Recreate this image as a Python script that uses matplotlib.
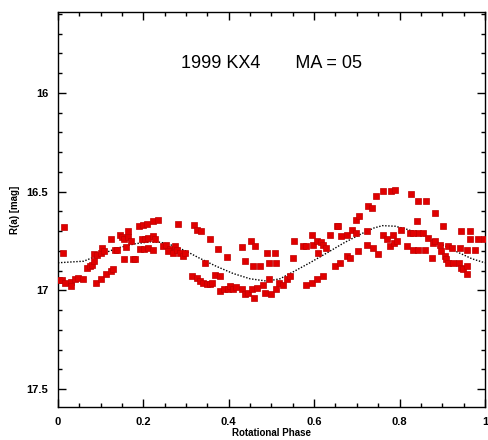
import matplotlib
matplotlib.use("Agg")
import matplotlib.pyplot as plt
from matplotlib.ticker import MultipleLocator

plt.rcParams['font.family'] = ['Liberation Sans', 'DejaVu Sans']

phase = [
    0.002, 0.009, 0.014, 0.012, 0.016, 0.030, 0.030, 0.040, 0.048, 0.058,
    0.069, 0.075, 0.079, 0.085, 0.085, 0.091, 0.100, 0.102, 0.108, 0.088,
    0.101, 0.112, 0.124, 0.128,
    0.123, 0.133, 0.139, 0.145, 0.149, 0.155, 0.163, 0.165, 0.171, 0.155,
    0.175, 0.181, 0.159,
    0.190, 0.200, 0.209, 0.222, 0.234, 0.196, 0.204, 0.212, 0.222, 0.227,
    0.192, 0.201, 0.212, 0.223,
    0.247, 0.254, 0.262, 0.258, 0.269, 0.274, 0.278, 0.286, 0.292, 0.297, 0.282,
    0.319, 0.325, 0.336, 0.356, 0.375, 0.395, 0.344,
    0.315, 0.325, 0.333, 0.340, 0.348, 0.356, 0.360, 0.368, 0.379, 0.379,
    0.389, 0.399, 0.403, 0.411, 0.418,
    0.430, 0.438, 0.451, 0.461, 0.457, 0.473, 0.430, 0.438, 0.446, 0.454,
    0.459, 0.465, 0.481, 0.489, 0.495, 0.495, 0.485, 0.500,
    0.508, 0.511, 0.511, 0.518, 0.528, 0.536, 0.543, 0.551, 0.553,
    0.573, 0.582, 0.594, 0.598, 0.606, 0.610, 0.615, 0.621, 0.628, 0.582,
    0.594, 0.606, 0.621, 0.637, 0.653, 0.657, 0.649, 0.660, 0.676, 0.684,
    0.664, 0.676, 0.688, 0.699, 0.699, 0.706, 0.703, 0.723, 0.723, 0.727, 0.735,
    0.746, 0.762, 0.781, 0.789, 0.737, 0.750, 0.762, 0.770, 0.778, 0.788,
    0.785, 0.793, 0.803,
    0.826, 0.844, 0.863, 0.883, 0.840, 0.824, 0.844, 0.832, 0.856, 0.817,
    0.832, 0.844, 0.859, 0.875, 0.867, 0.879, 0.884,
    0.902, 0.895, 0.898, 0.906, 0.910, 0.914, 0.922, 0.914, 0.926, 0.941,
    0.940, 0.945, 0.949, 0.957, 0.945, 0.965, 0.957, 0.957, 0.966, 0.977,
    0.984, 0.998,
]

mag = [
    16.949, 16.949, 16.680, 16.810, 16.961, 16.958, 16.978, 16.944, 16.936, 16.941,
    16.886, 16.877, 16.869, 16.852, 16.818, 16.823, 16.810, 16.786, 16.801, 16.961,
    16.941, 16.919, 16.902, 16.891,
    16.742, 16.793, 16.796, 16.717, 16.729, 16.742, 16.700, 16.729, 16.751, 16.840,
    16.843, 16.843, 16.779,
    16.675, 16.667, 16.662, 16.650, 16.645, 16.742, 16.739, 16.734, 16.722, 16.742,
    16.790, 16.790, 16.785, 16.793,
    16.776, 16.768, 16.790, 16.801, 16.810, 16.776, 16.793, 16.810, 16.827, 16.810, 16.662,
    16.667, 16.692, 16.700, 16.739, 16.790, 16.830, 16.860,
    16.928, 16.936, 16.953, 16.961, 16.965, 16.965, 16.961, 16.924, 16.928, 17.003,
    16.995, 16.992, 16.978, 16.995, 16.981,
    16.779, 16.852, 16.751, 16.776, 16.877, 16.877, 16.995, 17.020, 17.012, 16.995,
    17.037, 16.987, 16.970, 16.810, 16.860, 16.944, 17.012, 17.020,
    16.810, 16.860, 16.995, 16.961, 16.970, 16.944, 16.928, 16.835, 16.751,
    16.773, 16.776, 16.717, 16.768, 16.751, 16.810, 16.756, 16.768, 16.785, 16.970,
    16.961, 16.944, 16.928, 16.717, 16.675, 16.675, 16.877, 16.860, 16.827, 16.835,
    16.726, 16.717, 16.692, 16.709, 16.641, 16.625, 16.801, 16.768, 16.700, 16.574, 16.582,
    16.524, 16.498, 16.498, 16.490, 16.785, 16.818, 16.717, 16.742, 16.776, 16.759,
    16.717, 16.751, 16.692,
    16.512, 16.549, 16.549, 16.608, 16.650, 16.709, 16.709, 16.709, 16.709, 16.776,
    16.793, 16.793, 16.793, 16.835, 16.734, 16.759, 16.751,
    16.675, 16.768, 16.801, 16.827, 16.843, 16.776, 16.785, 16.860, 16.860, 16.785,
    16.860, 16.886, 16.894, 16.877, 16.700, 16.742, 16.793, 16.919, 16.700, 16.793,
    16.742, 16.742,
]

fit_phase = [0.0, 0.06, 0.10, 0.14, 0.18, 0.215, 0.24, 0.27, 0.30, 0.33, 0.37,
             0.41, 0.45, 0.49, 0.52, 0.55, 0.59, 0.63, 0.67, 0.71, 0.74, 0.76,
             0.79, 0.82, 0.86, 0.90, 0.94, 0.97, 1.0]
fit_mag = [16.860, 16.852, 16.818, 16.785, 16.764, 16.754, 16.756, 16.773, 16.801,
           16.835, 16.877, 16.914, 16.941, 16.953, 16.941, 16.907, 16.860, 16.810,
           16.759, 16.714, 16.684, 16.672, 16.675, 16.692, 16.726, 16.768, 16.810,
           16.840, 16.860]

title_text = "1999 KX4       MA = 05"
xticks = [0, 0.2, 0.4, 0.6, 0.8, 1]
xtick_labels = ["0", "0.2", "0.4", "0.6", "0.8", "1"]
yticks = [16, 16.5, 17, 17.5]
ytick_labels = ["16", "16.5", "17", "17.5"]

fig = plt.figure(figsize=(4.89, 4.40), dpi=100)
ax = fig.add_axes([0.1186, 0.075, 0.873, 0.898])

ax.plot(fit_phase, fit_mag, linestyle=(0, (1, 1.2)), color='black', linewidth=1.0, zorder=2)
ax.plot(phase, mag, linestyle='none', marker='s', markersize=4.2,
        markerfacecolor='#e00000', markeredgecolor='#c00000', markeredgewidth=0.5, zorder=3)

ax.set_xlim(0, 1)
ax.set_ylim(17.59, 15.59)
ax.set_xticks(xticks)
ax.set_xticklabels(xtick_labels)
ax.set_yticks(yticks)
ax.set_yticklabels(ytick_labels)
ax.xaxis.set_minor_locator(MultipleLocator(0.05))
ax.yaxis.set_minor_locator(MultipleLocator(0.1))
ax.tick_params(which='both', direction='in', top=True, right=True, width=1.0)
ax.tick_params(which='major', length=6, labelsize=8, pad=7)
ax.tick_params(which='minor', length=3)
for lab in ax.get_xticklabels() + ax.get_yticklabels():
    lab.set_fontweight('bold')
for s in ax.spines.values():
    s.set_linewidth(1.0)

ax.text(0.5, 0.87, title_text, transform=ax.transAxes, ha='center', va='center', fontsize=13)
ax.set_xlabel("Rotational Phase", fontsize=7, fontweight='bold', labelpad=1)
ax.set_ylabel("R(a) [mag]", fontsize=7, fontweight='bold', labelpad=5)

fig.savefig("out.png", dpi=100)
